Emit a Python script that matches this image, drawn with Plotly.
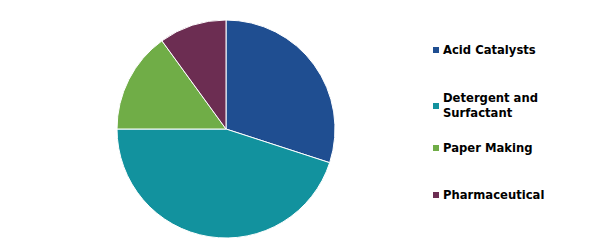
import plotly.graph_objects as go

categories = ["Acid Catalysts", "Detergent and Surfactant", "Paper Making", "Pharmaceutical"]
legend_labels = ["Acid Catalysts", "Detergent and<br>Surfactant", "Paper Making", "Pharmaceutical"]
values = [30, 45, 15, 10]
colors = ["#1F4E91", "#12929E", "#70AD47", "#6C2D52"]

W, H = 610, 248

fig = go.Figure()
fig.add_trace(go.Pie(
    labels=categories, values=values, sort=False, direction="clockwise", rotation=0,
    marker=dict(colors=colors, line=dict(color="white", width=1)),
    textinfo="none", hoverinfo="label+percent",
    domain=dict(x=[117 / W, 335 / W], y=[(H - 238) / H, (H - 20) / H]),
    showlegend=False,
))

# manual legend
legend_y = [50, 106, 148, 195]
for lab, col, yc in zip(legend_labels, colors, legend_y):
    fig.add_shape(type="rect", xref="paper", yref="paper",
                  x0=433 / W, x1=439 / W, y0=(H - yc - 3) / H, y1=(H - yc + 3) / H,
                  fillcolor=col, line=dict(width=0))
    fig.add_annotation(x=441 / W, y=(H - yc) / H, xref="paper", yref="paper",
                       text="<b>" + lab + "</b>", showarrow=False, xanchor="left", yanchor="middle",
                       align="left",
                       font=dict(family="DejaVu Sans", size=11.6, color="black"))

fig.update_layout(width=W, height=H, margin=dict(l=0, r=0, t=0, b=0),
                  paper_bgcolor="white", plot_bgcolor="white")
fig.write_html("out.html")
